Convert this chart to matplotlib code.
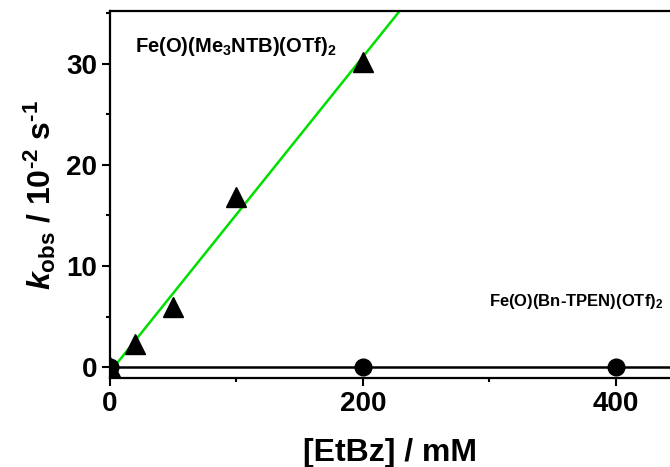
import numpy as np
import matplotlib
matplotlib.use("Agg")
import matplotlib.pyplot as plt
from matplotlib.ticker import MultipleLocator

plt.rcParams['font.family'] = ['Liberation Sans', 'DejaVu Sans']
plt.rcParams['font.weight'] = 'bold'
plt.rcParams['mathtext.fontset'] = 'custom'
plt.rcParams['mathtext.rm'] = 'Liberation Sans:bold'
plt.rcParams['mathtext.it'] = 'Liberation Sans:bold:italic'
plt.rcParams['mathtext.bf'] = 'Liberation Sans:bold'

# Fe(O)(Me3NTB)(OTf)2 data
ntb_conc = [0, 20, 50, 100, 200]
ntb_kobs = [0.0, 2.3, 5.9, 16.8, 30.2]
# Fe(O)(Bn-TPEN)(OTf)2 data
tpen_conc = [0, 200, 400]
tpen_kobs = [0.0, 0.0, 0.0]

fig = plt.figure(figsize=(6.7, 4.67), dpi=100)
ax = fig.add_axes([0.164, 0.19, 0.836, 0.786])

# linear fits
p = np.polyfit(ntb_conc, ntb_kobs, 1)
xf = np.array([0, 300])
ax.plot(xf, np.polyval(p, xf), color='#00e000', lw=1.8, zorder=2)
ax.plot([0, 500], [0, 0], color='black', lw=1.8, zorder=2)

ax.plot(ntb_conc, ntb_kobs, '^', color='black', ms=14, zorder=3)
ax.plot(tpen_conc, tpen_kobs, 'o', color='black', ms=12, zorder=3)

ax.set_xlim(0, 443)
ax.set_ylim(-1.1, 35.2)
ax.xaxis.set_major_locator(MultipleLocator(200))
ax.xaxis.set_minor_locator(MultipleLocator(100))
ax.yaxis.set_major_locator(MultipleLocator(10))
ax.yaxis.set_minor_locator(MultipleLocator(5))
ax.tick_params(which='major', length=6, width=1.5, labelsize=20, pad=3)
ax.tick_params(which='minor', length=3, width=1.5)
for lab in ax.get_xticklabels() + ax.get_yticklabels():
    lab.set_fontweight('bold')

for s in ['left', 'bottom', 'top']:
    ax.spines[s].set_linewidth(1.6)
ax.spines['right'].set_visible(False)

hy = '\u2010'
ax.set_xlabel('[EtBz] / mM', fontsize=23, fontweight='bold', labelpad=15)
ax.set_ylabel(r'$k_{\mathrm{obs}}$ / 10$^{\mathrm{' + hy + r'2}}$ s$^{\mathrm{' + hy + r'1}}$',
              fontsize=23, fontweight='bold', labelpad=6)

ax.text(20, 31.7, r'Fe(O)(Me$_{\mathrm{3}}$NTB)(OTf)$_{\mathrm{2}}$', fontsize=14.5,
        fontweight='bold', va='center', ha='left')
ax.text(438, 6.5, r'Fe(O)(Bn-TPEN)(OTf)$_{\mathrm{2}}$', fontsize=12,
        fontweight='bold', va='center', ha='right')

fig.savefig('out.png', dpi=100)
